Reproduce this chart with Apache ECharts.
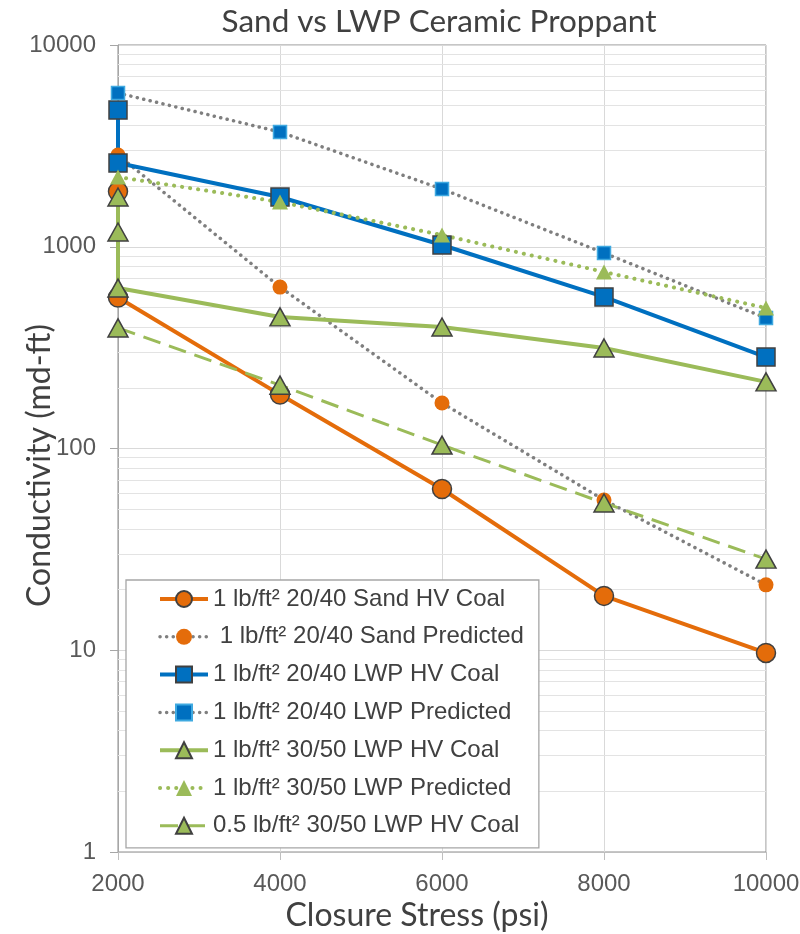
<!DOCTYPE html>
<html>
<head>
<meta charset="utf-8">
<script src="https://cdn.jsdelivr.net/npm/echarts@6/dist/echarts.min.js"></script>
<style>html,body{margin:0;padding:0;background:#fff}#c{width:800px;height:934px}</style>
</head>
<body>
<div id="c"></div>
<script>
// ---- data (x = closure stress psi, y = conductivity md-ft) ----
const seriesNames = [
  '1 lb/ft\u00b2 20/40 Sand HV Coal',
  ' 1 lb/ft\u00b2 20/40 Sand Predicted',
  '1 lb/ft\u00b2 20/40 LWP HV Coal',
  '1 lb/ft\u00b2 20/40 LWP Predicted',
  '1 lb/ft\u00b2 30/50 LWP HV Coal',
  '1 lb/ft\u00b2 30/50 LWP Predicted',
  '0.5 lb/ft\u00b2 30/50 LWP HV Coal'
];
const sandHV    = [[2000,1880],[2000,560],[4000,185],[6000,63],[8000,18.6],[10000,9.7]];
const sandPred  = [[2000,2850],[4000,631],[6000,168],[8000,55.6],[10000,21.1]];
const lwp2040HV = [[2000,4760],[2000,2600],[4000,1765],[6000,1020],[8000,564],[10000,284]];
const lwp2040Pred = [[2000,5780],[4000,3705],[6000,1933],[8000,931],[10000,443]];
const lwp3050HV = [[2000,1765],[2000,1183],[2000,624],[4000,449],[6000,400],[8000,315],[10000,214]];
const lwp3050Pred = [[2000,2217],[4000,1667],[6000,1143],[8000,750],[10000,497]];
const lwpHalfHV = [[2000,396],[4000,206],[6000,104],[8000,53.7],[10000,28.3]];
const xTicks = [2000, 4000, 6000, 8000, 10000];
const yDecades = [1, 10, 100, 1000, 10000];
const minorMultipliers = [2,3,4,5,6,7,8,9];

const minorValues = [];
for (let i = 0; i < yDecades.length - 1; i++) {
  minorMultipliers.forEach(m => minorValues.push(yDecades[i] * m));
}

const ORANGE = '#E46C0A', BLUE = '#0070C0', GREEN = '#9BBB59', GRAY = '#7F7F7F', EDGE = '#404040';
const dots = [0.1, 6.5];
const plain = v => String(Math.round(v));

const chart = echarts.init(document.getElementById('c'), null, {renderer: 'canvas'});
chart.setOption({
  animation: false,
  backgroundColor: '#fff',
  title: {
    text: 'Sand vs LWP Ceramic Proppant',
    left: 434, top: 1, textAlign: 'center',
    textStyle: {fontFamily: 'Lato', fontSize: 31.5, fontWeight: 'normal', color: '#404040'}
  },
  grid: {left: 118, right: 34, top: 45, bottom: 82, show: true, borderColor: '#8C8C8C', borderWidth: 1,
         outerBoundsMode: 'none', containLabel: false},
  legend: {
    orient: 'vertical', left: 126, top: 580,
    padding: [7, 15, 10, 32],
    backgroundColor: '#fff', borderColor: '#A6A6A6', borderWidth: 1.3,
    itemWidth: 48, itemHeight: 20, itemGap: 13.8,
    selectedMode: false,
    lineStyle: {width: 'inherit'},
    textStyle: {fontFamily: 'Liberation Sans', fontSize: 24, color: '#404040'},
    data: seriesNames
  },
  xAxis: {
    type: 'value', min: xTicks[0], max: xTicks[xTicks.length - 1], interval: 2000,
    name: 'Closure Stress (psi)', nameLocation: 'middle', nameGap: 48, nameMoveOverlap: false,
    nameTextStyle: {fontFamily: 'Lato', fontSize: 32, color: '#404040', padding: [0, 50, 0, 0]},
    axisLine: {lineStyle: {color: '#BFBFBF', width: 1}},
    axisTick: {show: true, length: 8, lineStyle: {color: '#BFBFBF'}},
    axisLabel: {fontFamily: 'Liberation Sans', fontSize: 24, color: '#595959', margin: 20, formatter: plain},
    splitLine: {show: true, lineStyle: {color: '#D9D9D9', width: 1}}
  },
  yAxis: {
    type: 'log', logBase: 10, min: yDecades[0], max: yDecades[yDecades.length - 1],
    name: 'Conductivity (md-ft)', nameLocation: 'middle', nameGap: 62, nameMoveOverlap: false,
    nameTextStyle: {fontFamily: 'Lato', fontSize: 32, color: '#404040', padding: [0, 34, 0, 0]},
    axisLine: {show: true, lineStyle: {color: '#A6A6A6', width: 1}},
    axisTick: {show: true, length: 8, lineStyle: {color: '#A6A6A6'}},
    axisLabel: {fontFamily: 'Liberation Sans', fontSize: 24, color: '#595959', margin: 22, formatter: plain},
    splitLine: {show: true, lineStyle: {color: '#D9D9D9', width: 1}}
  },
  series: [
    {
      name: seriesNames[0], type: 'line', data: sandHV,
      symbol: 'circle', symbolSize: 19,
      lineStyle: {color: ORANGE, width: 4},
      itemStyle: {color: ORANGE, borderColor: EDGE, borderWidth: 1.5},
      markLine: {
        silent: true, symbol: 'none', z: 1, animation: false,
        label: {show: false},
        lineStyle: {color: '#E3E3E3', width: 1, type: 'solid'},
        data: minorValues.map(v => ({yAxis: v}))
      }
    },
    {
      name: seriesNames[1], type: 'line', data: sandPred,
      symbol: 'circle', symbolSize: 15,
      lineStyle: {color: GRAY, width: 3.5, type: dots, cap: 'round'},
      itemStyle: {color: ORANGE, borderWidth: 0}
    },
    {
      name: seriesNames[2], type: 'line', data: lwp2040HV,
      symbol: 'rect', symbolSize: 18,
      lineStyle: {color: BLUE, width: 4},
      itemStyle: {color: BLUE, borderColor: EDGE, borderWidth: 1.5}
    },
    {
      name: seriesNames[3], type: 'line', data: lwp2040Pred,
      symbol: 'rect', symbolSize: 13,
      lineStyle: {color: GRAY, width: 3.5, type: dots, cap: 'round'},
      itemStyle: {color: BLUE, borderColor: '#3FA9E0', borderWidth: 1.5}
    },
    {
      name: seriesNames[4], type: 'line', data: lwp3050HV,
      symbol: 'triangle', symbolSize: [20, 18],
      lineStyle: {color: GREEN, width: 4},
      itemStyle: {color: GREEN, borderColor: EDGE, borderWidth: 1.5}
    },
    {
      name: seriesNames[5], type: 'line', data: lwp3050Pred,
      symbol: 'triangle', symbolSize: [16, 15],
      lineStyle: {color: GREEN, width: 4, type: [0.1, 8], cap: 'round'},
      itemStyle: {color: GREEN, borderWidth: 0}
    },
    {
      name: seriesNames[6], type: 'line', data: lwpHalfHV,
      symbol: 'triangle', symbolSize: [20, 18],
      lineStyle: {color: GREEN, width: 3, type: [18, 9]},
      itemStyle: {color: GREEN, borderColor: EDGE, borderWidth: 1.5}
    }
  ]
});
</script>
</body>
</html>
